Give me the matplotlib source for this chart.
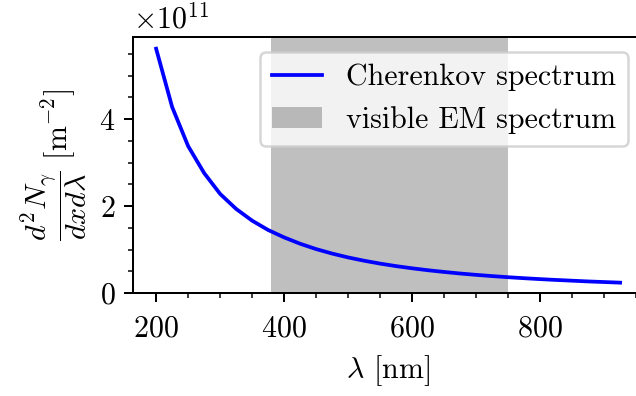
import matplotlib
matplotlib.use("Agg")
import matplotlib.pyplot as plt
from matplotlib.ticker import MultipleLocator

plt.rcParams.update({
    "font.family": "serif",
    "font.serif": ["cmr10", "DejaVu Serif"],
    "mathtext.fontset": "cm",
    "axes.formatter.use_mathtext": True,
    "axes.unicode_minus": False,
    "font.size": 12,
    "xtick.major.pad": 5.5,
})

# Cherenkov photon yield per unit length and wavelength (units of 1e11 m^-2)
wavelength_nm = [200, 225, 250, 275, 300, 325, 350, 375, 400, 425,
                 450, 475, 500, 525, 550, 575, 600, 625, 650, 675,
                 700, 725, 750, 775, 800, 825, 850, 875, 900, 925]
yield_e11 = [5.620, 4.280, 3.380, 2.760, 2.280, 1.935, 1.665, 1.450, 1.280, 1.134,
             1.011, 0.908, 0.819, 0.743, 0.677, 0.619, 0.569, 0.524, 0.485, 0.449,
             0.418, 0.390, 0.364, 0.341, 0.320, 0.301, 0.284, 0.267, 0.253, 0.239]
yield_per_m2 = [v * 1e11 for v in yield_e11]

visible_range = (380, 750)

DPI = 180
fig = plt.figure(figsize=(636 / DPI, 396 / DPI), dpi=DPI)
ax = fig.add_axes([0.209, 0.260, 0.8025, 0.6466])

ax.plot(wavelength_nm, yield_per_m2, color="blue", lw=1.5, label="Cherenkov spectrum")
ax.axvspan(*visible_range, color="gray", alpha=0.5, lw=0, label="visible EM spectrum")

ax.set_ylim(bottom=0)
ax.xaxis.set_major_locator(MultipleLocator(200))
ax.xaxis.set_minor_locator(MultipleLocator(50))
ax.yaxis.set_major_locator(MultipleLocator(2e11))
ax.yaxis.set_minor_locator(MultipleLocator(0.5e11))

ax.set_xlabel(r"$\lambda$ [nm]")
ax.set_ylabel(r"$\dfrac{d^2N_\gamma}{dxd\lambda}$ [m$^{-2}$]")
ax.legend(loc="upper right", handlelength=1.67)

fig.savefig("out.png", dpi=DPI)
